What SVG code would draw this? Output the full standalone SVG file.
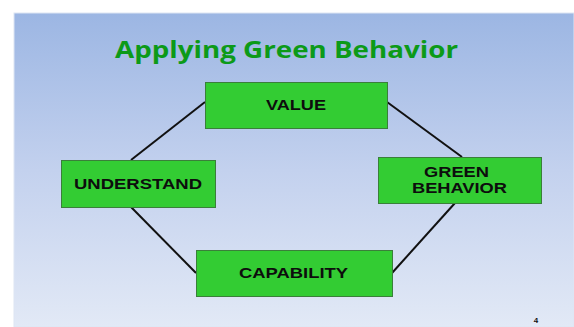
<svg xmlns="http://www.w3.org/2000/svg" width="574" height="327" viewBox="0 0 574 327">
<defs>
<linearGradient id="bg" x1="0" y1="0" x2="0" y2="1">
<stop offset="0" stop-color="#9cb6e3"/>
<stop offset="0.5" stop-color="#c3d1ee"/>
<stop offset="1" stop-color="#e2e9f6"/>
</linearGradient>
<style>
.box{fill:#33cc33;stroke:#3a7f3a;stroke-width:1}
.lbl{font-family:"Liberation Sans",Arial,sans-serif;font-weight:bold;font-size:15px;fill:#0d0d0d;text-anchor:middle}
.conn{stroke:#111;stroke-width:2;fill:none}
</style>
</defs>
<rect x="0" y="0" width="574" height="327" fill="#ffffff"/>
<rect x="14" y="13" width="560" height="314" fill="url(#bg)" stroke="#dde6f4" stroke-width="1"/>
<text x="286.5" y="58" font-family="'Open Sans',sans-serif" font-weight="bold" font-size="24" fill="#0c9a18" text-anchor="middle" textLength="343" lengthAdjust="spacingAndGlyphs">Applying Green Behavior</text>
<g id="connectors">
<line class="conn" x1="205" y1="102" x2="131" y2="160"/>
<line class="conn" x1="387" y1="102" x2="462" y2="157"/>
<line class="conn" x1="131" y1="207" x2="196" y2="273"/>
<line class="conn" x1="392" y1="273" x2="455" y2="203"/>
</g>
<g id="value">
<rect class="box" x="205.5" y="82.5" width="182" height="46"/>
<text class="lbl" x="296" y="110" textLength="60" lengthAdjust="spacingAndGlyphs">VALUE</text>
</g>
<g id="understand">
<rect class="box" x="61.5" y="160.5" width="154" height="47"/>
<text class="lbl" x="138" y="189" textLength="128" lengthAdjust="spacingAndGlyphs">UNDERSTAND</text>
</g>
<g id="green-behavior">
<rect class="box" x="378.5" y="157.5" width="163" height="46"/>
<text class="lbl" x="456.5" y="177" textLength="65" lengthAdjust="spacingAndGlyphs">GREEN</text>
<text class="lbl" x="459.5" y="193" textLength="95" lengthAdjust="spacingAndGlyphs">BEHAVIOR</text>
</g>
<g id="capability">
<rect class="box" x="196.5" y="250.5" width="196" height="46"/>
<text class="lbl" x="293.5" y="278" textLength="109" lengthAdjust="spacingAndGlyphs">CAPABILITY</text>
</g>
<text x="536" y="323" font-family="'Liberation Sans',Arial,sans-serif" font-weight="bold" font-size="8" fill="#111" text-anchor="middle">4</text>
</svg>
